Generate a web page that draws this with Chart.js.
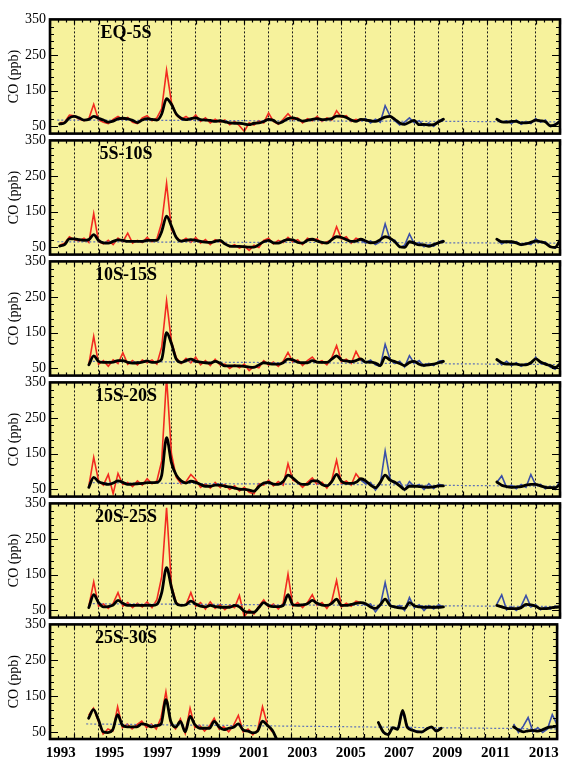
<!DOCTYPE html>
<html>
<head>
<meta charset="utf-8">
<script src="https://cdn.jsdelivr.net/npm/chart.js@4.4.1/dist/chart.umd.min.js"></script>
<style>
    body { margin: 0; background: #fff; }
    #wrap { position: relative; width: 564px; height: 761px; overflow: hidden; }
    #wrap canvas { position: absolute; left: 0; }
</style>
</head>
<body>
<div id="wrap"></div>
<script>
const N = null;

// time axes (decimal years)
const tMain = [1993.4, 1993.6, 1993.8,
    1994.0, 1994.2, 1994.4, 1994.6, 1994.8, 1995.0, 1995.2, 1995.4, 1995.6, 1995.8,
    1996.0, 1996.2, 1996.4, 1996.6, 1996.8, 1997.0, 1997.2, 1997.4, 1997.6, 1997.8,
    1998.0, 1998.2, 1998.4, 1998.6, 1998.8, 1999.0, 1999.2, 1999.4, 1999.6, 1999.8,
    2000.0, 2000.2, 2000.4, 2000.6, 2000.8, 2001.0, 2001.2, 2001.4, 2001.6, 2001.8,
    2002.0, 2002.2, 2002.4, 2002.6, 2002.8, 2003.0, 2003.2, 2003.4, 2003.6, 2003.8,
    2004.0, 2004.2, 2004.4, 2004.6, 2004.8, 2005.0, 2005.2, 2005.4, 2005.6, 2005.8];
const tLate = [2005.8,
    2006.0, 2006.2, 2006.4, 2006.6, 2006.8, 2007.0, 2007.2, 2007.4, 2007.6, 2007.8,
    2008.0, 2008.2, 2008.4, 2008.6, 2008.8, 2009.0, 2009.2,
    2010.3,
    2011.4, 2011.6, 2011.8, 2012.0, 2012.2, 2012.4, 2012.6, 2012.8,
    2013.0, 2013.2, 2013.4, 2013.6, 2013.8, 2014.0];

const bands = ['EQ-5S', '5S-10S', '10S-15S', '15S-20S', '20S-25S', '25S-30S'];
const tickYears = [1993, 1995, 1997, 1999, 2001, 2003, 2005, 2007, 2009, 2011, 2013];
const yTicks = [50, 150, 250, 350];

// red = early record, on tMain
const red1 = [60, 62, 82, 80, 70, 66, 72, 112, 68, 62, 58, 70, 78, 70, 75, 62, 58, 74, 80, 66, 74, 100, 208,
    118, 82, 70, 78, 68, 82, 64, 74, 60, 70, 62, 68, 55, 64, 52, 36, 60, 54, 66, 60,
    88, 64, 56, 70, 86, 70, 74, 60, 72, 66, 78, 64, 74, 68, 94, 76, 80, 64, 70, 66];
const red2 = [56, 62, 80, 72, 68, 76, 64, 145, 66, 60, 70, 58, 76, 66, 90, 62, 70, 64, 78, 66, 74, 120, 230,
    100, 80, 66, 76, 64, 78, 62, 72, 58, 72, 66, 62, 52, 58, 48, 54, 42, 56, 50, 70,
    76, 60, 70, 64, 78, 66, 72, 58, 76, 70, 74, 60, 66, 70, 108, 74, 80, 62, 76, 70];
const red3 = [N, N, N, N, N, N, 62, 140, 62, 72, 56, 74, 64, 94, 62, 72, 60, 74, 66, 74, 62, 110, 240,
    125, 80, 64, 78, 66, 82, 60, 72, 58, 76, 60, 62, 50, 60, 52, 62, 44, 56, 52, 72,
    60, 68, 56, 70, 95, 68, 74, 58, 72, 82, 66, 72, 60, 80, 114, 70, 76, 64, 98, 72];
const red4 = [N, N, N, N, N, N, 60, 140, 74, 62, 92, 38, 95, 64, 70, 58, 74, 62, 80, 66, 74, 130, 365,
    150, 84, 66, 72, 92, 78, 56, 66, 54, 70, 56, 64, 50, 60, 46, 56, 42, 38, 66, 62,
    76, 60, 72, 62, 122, 76, 70, 56, 70, 82, 64, 70, 54, 76, 132, 66, 74, 62, 94, 76];
const red5 = [N, N, N, N, N, N, 62, 130, 62, 68, 56, 70, 100, 62, 72, 58, 70, 60, 74, 58, 80, 145, 338,
    120, 72, 64, 66, 100, 62, 72, 54, 74, 56, 66, 52, 64, 58, 92, 32, 52, 40, 62, 80,
    60, 68, 54, 70, 152, 62, 72, 58, 72, 94, 64, 72, 56, 76, 134, 60, 70, 62, 76, 72];
const red6 = [N, N, N, N, N, N, 96, 116, 80, 44, 58, 52, 120, 62, 72, 58, 70, 80, 62, 72, 58, 90, 162,
    72, 58, 86, 46, 116, 62, 68, 52, 66, 88, 58, 64, 50, 68, 96, 50, 58, 42, 56, 120,
    70, 50, N, N, N, N, N, N, N, N, N, N, N, N, N, N, N, N, N, N];

// blue = later record, on tLate
const blue1 = [66, 72, 60, 70, 62, 108, 80, 66, 54, 62, 74, 60, 66, 52, 60, 50, 66, 72, N,
    72, 62, 66, 58, 68, 56, 64, 58, 72, 62, 68, 50, 56, 66];
const blue2 = [70, 62, 68, 58, 66, 116, 72, 70, 50, 56, 88, 60, 64, 52, 58, 54, 64, 70, N,
    74, 60, 68, 62, 66, 56, 62, 58, 74, 64, 66, 52, 48, 72];
const blue3 = [72, 66, 74, 60, 56, 118, 76, 64, 70, 54, 86, 64, 72, 56, 64, 58, 70, 72, N,
    76, 60, 70, 58, 66, 56, 64, 62, 82, 64, 66, 54, 48, 64];
const blue4 = [76, 66, 70, 48, 66, 158, 80, 66, 72, 48, 72, 58, 64, 50, 66, 52, 64, 62, N,
    70, 88, 56, 62, 52, 64, 56, 92, 62, 64, 52, 58, 50, 74];
const blue5 = [72, 64, 68, 46, 64, 128, 66, 58, 64, 50, 86, 58, 66, 50, 64, 54, 66, 60, N,
    68, 94, 52, 60, 50, 62, 92, 60, 66, 52, 60, 54, 62, 60];
const blue6 = [N, N, N, N, 76, 48, 44, 60, 60, 104, 66, 56, 52, 48, 60, 62, 54, 60, N,
    N, N, N, N, 72, 48, 66, 90, 50, 62, 48, 58, 98, 70];

// black = smoothed record, on tMain then tLate (without its first point)
const black1 = [57, 60, 74, 78, 74, 68, 70, 78, 73, 68, 62, 65, 71, 73, 71, 67, 61, 68, 72, 70, 68, 85, 128,
    112, 85, 73, 69, 72, 74, 69, 68, 67, 64, 66, 63, 60, 59, 59, 57, 55, 59, 60, 64,
    70, 67, 59, 64, 72, 74, 70, 65, 67, 70, 72, 69, 70, 72, 79, 79, 75, 68, 64, 70,
    68, 66, 64, 70, 76, 78, 70, 60, 56, 62, 67, 55, 56, 54, 55, 63, 70, N,
    70, 63, 62, 64, 64, 60, 60, 62, 68, 66, 63, 52, 55, 64];
const black2 = [54, 58, 74, 74, 72, 70, 72, 86, 70, 63, 62, 67, 71, 70, 67, 67, 67, 67, 70, 70, 70, 95, 138,
    110, 78, 68, 70, 72, 70, 67, 65, 64, 67, 70, 60, 54, 53, 53, 52, 51, 51, 58, 66,
    70, 63, 62, 68, 72, 71, 64, 62, 70, 73, 68, 64, 62, 72, 80, 78, 72, 67, 68, 73,
    68, 63, 64, 72, 80, 76, 66, 52, 50, 66, 62, 57, 57, 53, 58, 63, 67, N,
    73, 66, 66, 66, 63, 58, 60, 64, 68, 66, 62, 52, 50, 70];
const black3 = [N, N, N, N, N, N, 60, 85, 70, 67, 67, 68, 72, 72, 67, 65, 66, 68, 71, 67, 68, 76, 150,
    120, 76, 67, 72, 76, 70, 68, 66, 65, 70, 65, 57, 57, 57, 57, 56, 54, 53, 60, 66,
    64, 62, 62, 66, 76, 74, 68, 66, 66, 72, 68, 67, 67, 76, 85, 74, 71, 69, 72, 77,
    68, 68, 65, 58, 82, 74, 69, 64, 58, 67, 70, 62, 59, 60, 62, 66, 70, N,
    75, 66, 62, 62, 62, 60, 60, 66, 77, 68, 62, 58, 53, 62];
const black4 = [N, N, N, N, N, N, 56, 84, 72, 67, 64, 68, 74, 70, 64, 65, 66, 67, 69, 69, 70, 90, 195,
    125, 90, 74, 68, 73, 70, 64, 59, 59, 62, 62, 59, 57, 54, 51, 50, 48, 45, 58, 68,
    70, 65, 64, 72, 90, 82, 70, 64, 64, 74, 74, 64, 60, 72, 92, 73, 67, 67, 70, 80,
    74, 62, 55, 70, 90, 76, 70, 60, 50, 59, 59, 58, 57, 56, 57, 60, 60, N,
    71, 62, 58, 56, 57, 58, 62, 64, 64, 60, 56, 55, 55, 64];
const black5 = [N, N, N, N, N, N, 58, 94, 72, 60, 61, 65, 78, 70, 64, 64, 64, 64, 64, 64, 67, 100, 170,
    115, 70, 64, 66, 76, 68, 62, 60, 64, 61, 59, 59, 59, 64, 60, 48, 45, 45, 58, 72,
    64, 61, 61, 64, 94, 66, 64, 66, 69, 78, 70, 65, 64, 70, 82, 64, 64, 67, 70, 72,
    69, 60, 56, 66, 82, 64, 60, 57, 56, 72, 63, 60, 59, 59, 59, 59, 60, N,
    64, 60, 56, 55, 55, 58, 67, 66, 62, 55, 55, 57, 59, 60];
const black6 = [N, N, N, N, N, N, 88, 112, 85, 50, 48, 56, 98, 68, 64, 64, 64, 72, 70, 64, 67, 72, 140,
    80, 63, 79, 50, 93, 70, 60, 60, 60, 79, 64, 56, 60, 63, 72, 55, 52, 47, 52, 80,
    68, 55, 28, N, N, N, N, N, N, N, N, N, N, N, N, N, N, N, N, N,
    N, N, N, 76, 50, 42, 62, 57, 110, 62, 55, 50, 50, 58, 64, 52, 60, N,
    N, N, N, N, 64, 55, 50, 53, 54, 52, 56, 62, 64, 66];

// long-term trend lines: start year, start value, value at 2014
const trendStart = [1993.3, 1993.3, 1994.6, 1994.6, 1994.6, 1994.5];
const trendFrom = [68, 66, 70, 69, 69, 72];
const trendTo = [63, 62, 61, 59, 61, 58];

const reds = [red1, red2, red3, red4, red5, red6];
const blues = [blue1, blue2, blue3, blue4, blue5, blue6];
const blacks = [black1, black2, black3, black4, black5, black6];

const tBlack = tMain.concat(tLate.slice(1));

Chart.defaults.font.family = '"Liberation Serif", "Times New Roman", serif';
Chart.defaults.color = '#000';
Chart.defaults.animation = false;

function pts(times, vals) {
    return times.map((t, k) => ({ x: t, y: vals[k] }));
}

const panelPaint = {
    id: 'panelPaint',
    beforeDraw(chart) {
        const a = chart.chartArea;
        const ctx = chart.ctx;
        ctx.save();
        ctx.fillStyle = '#f6f29c';
        ctx.fillRect(a.left, a.top, a.right - a.left, a.bottom - a.top);
        ctx.restore();
    },
    afterDraw(chart, args, opts) {
        const a = chart.chartArea;
        const ctx = chart.ctx;
        const xs = chart.scales.x;
        const ys = chart.scales.y;
        ctx.save();
        ctx.strokeStyle = '#000';
        ctx.lineWidth = 1.2;
        ctx.beginPath();
        // inner ticks left / right
        for (let v = 50; v <= 350; v += 20) {
            const py = Math.round(ys.getPixelForValue(v)) + 0.5;
            const len = yTicks.includes(v) ? 8 : 4;
            ctx.moveTo(a.left, py); ctx.lineTo(a.left + len, py);
            ctx.moveTo(a.right, py); ctx.lineTo(a.right - len, py);
        }
        // inner ticks top / bottom (every 4 months)
        for (let k = 0; k <= 63; k++) {
            const px = Math.round(xs.getPixelForValue(1993 + k / 3)) + 0.5;
            const len = k % 3 === 0 ? 5 : 3;
            ctx.moveTo(px, a.top); ctx.lineTo(px, a.top + len);
            ctx.moveTo(px, a.bottom); ctx.lineTo(px, a.bottom - len);
        }
        ctx.stroke();
        ctx.lineWidth = 2.6;
        ctx.strokeRect(a.left, a.top, a.right - a.left, a.bottom - a.top);
        ctx.fillStyle = '#000';
        ctx.font = 'bold 18px "Liberation Serif"';
        ctx.textAlign = 'center';
        ctx.textBaseline = 'middle';
        ctx.fillText(opts.name, a.left + 76, a.top + 14);
        ctx.restore();
    }
};

function makePanel(i) {
    const last = i === bands.length - 1;
    const plotTop = Math.round(19.3 + 120.9 * i);
    const top = plotTop - 12;
    const h = last ? 761 - top : 139;

    const canvas = document.createElement('canvas');
    canvas.width = 564;
    canvas.height = h;
    canvas.style.top = top + 'px';
    canvas.style.width = '564px';
    canvas.style.height = h + 'px';
    document.getElementById('wrap').appendChild(canvas);

    const scales = {
        x: {
            type: 'linear',
            min: 1993,
            max: 2014,
            position: 'bottom',
            ticks: { display: false, stepSize: 1 },
            grid: { color: '#1a1a1a', lineWidth: 1, drawTicks: false },
            border: { display: false, dash: [2, 2] },
            afterFit: s => { s.height = 0; }
        },
        y: {
            min: 30,
            max: 350,
            afterBuildTicks: axis => { axis.ticks = yTicks.map(v => ({ value: v })); },
            ticks: { font: { size: 14 }, padding: 4 },
            grid: { display: false, drawTicks: false },
            border: { display: false },
            title: { display: true, text: 'CO (ppb)', font: { size: 14 }, padding: { top: 6, bottom: 0 } },
            afterFit: s => { s.width = 50; }
        }
    };
    if (last) {
        scales.xl = {
            type: 'linear',
            min: 1993,
            max: 2014,
            position: 'bottom',
            afterBuildTicks: axis => { axis.ticks = tickYears.map(y => ({ value: y + 0.45 })); },
            ticks: {
                font: { size: 15, weight: 'bold' },
                padding: 5,
                autoSkip: false,
                maxRotation: 0,
                callback: (v, idx) => String(tickYears[idx])
            },
            grid: { display: false, drawTicks: false },
            border: { display: false },
            afterFit: s => { s.height = 22; }
        };
    }

    new Chart(canvas, {
        type: 'line',
        data: {
            datasets: [
                {
                    data: pts(tBlack, blacks[i]),
                    borderColor: '#000',
                    borderWidth: 2.8,
                    cubicInterpolationMode: 'monotone',
                    borderJoinStyle: 'round',
                    borderCapStyle: 'round',
                    order: 0
                },
                {
                    data: [{ x: trendStart[i], y: trendFrom[i] }, { x: 2014, y: trendTo[i] }],
                    borderColor: '#5f72b8',
                    borderWidth: 1.2,
                    borderDash: [2, 2],
                    order: 1
                },
                {
                    data: pts(tLate, blues[i]),
                    borderColor: '#3a4fa8',
                    borderWidth: 1.6,
                    order: 2
                },
                {
                    data: pts(tMain, reds[i]),
                    borderColor: '#f22a20',
                    borderWidth: 1.6,
                    order: 3
                }
            ]
        },
        options: {
            responsive: false,
            devicePixelRatio: 1,
            events: [],
            layout: { padding: { top: 12, right: 4, bottom: last ? 0 : 12, left: 0 } },
            elements: { point: { radius: 0 }, line: { tension: 0 } },
            plugins: {
                legend: { display: false },
                tooltip: { enabled: false },
                panelPaint: { name: bands[i] }
            },
            scales: scales
        },
        plugins: [panelPaint]
    });
}

bands.forEach((b, i) => makePanel(i));
</script>
</body>
</html>
